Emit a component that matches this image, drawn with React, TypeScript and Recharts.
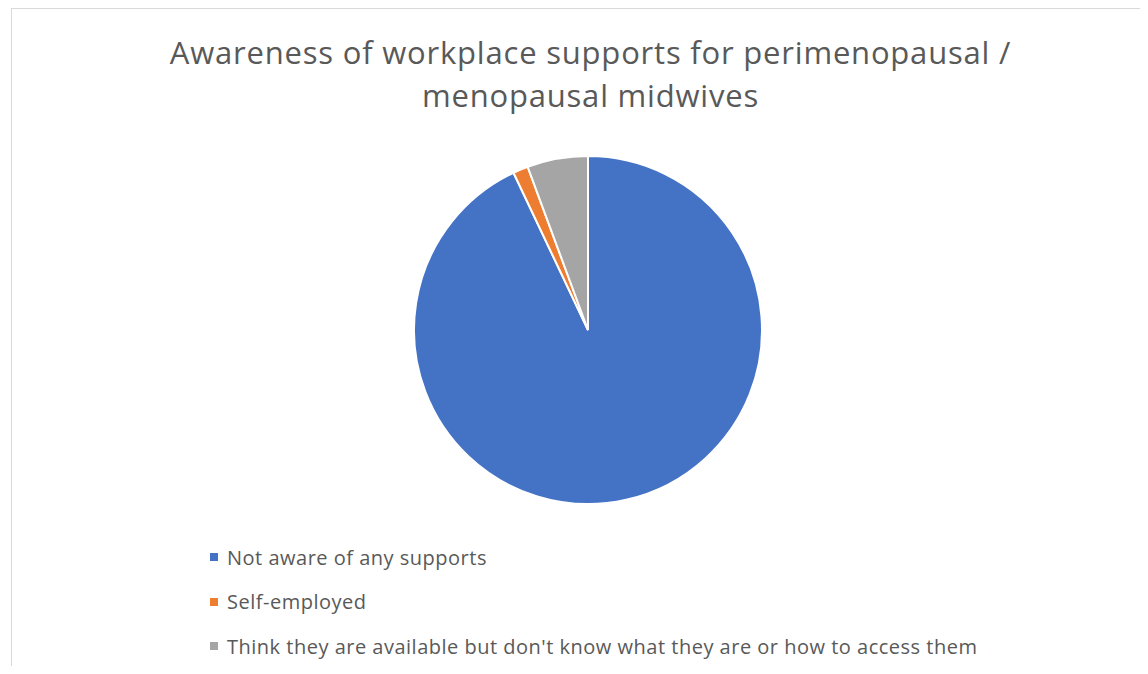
import React from 'react';
import { PieChart, Pie, Cell } from 'recharts';

const categories = [
  'Not aware of any supports',
  'Self-employed',
  "Think they are available but don't know what they are or how to access them",
];
const values = [66, 1, 4];
const colors = ['#4472C4', '#ED7D31', '#A5A5A5'];
const titleLines = ['Awareness of workplace supports for perimenopausal /', 'menopausal midwives'];

const data = categories.map((name, i) => ({ name, value: values[i] }));

const FONT = '"Open Sans", Lato, sans-serif';

export default function App() {
  return (
    <div
      style={{
        marginLeft: 3,
        width: 1130,
        height: 657,
        borderLeft: '1px solid #d9d9d9',
        borderTop: '1px solid #d9d9d9',
        position: 'relative',
        background: '#fff',
        fontFamily: FONT,
      }}
    >
      <div style={{ position: 'absolute', left: 0, top: 0 }}>
        <PieChart width={1129} height={656} margin={{ top: 0, right: 0, bottom: 0, left: 0 }}>
          <Pie
            data={data}
            dataKey="value"
            nameKey="name"
            cx={576}
            cy={321}
            outerRadius={174}
            startAngle={90}
            endAngle={-270}
            stroke="#ffffff"
            strokeWidth={2}
            isAnimationActive={false}
          >
            {data.map((_, i) => (
              <Cell key={i} fill={colors[i]} />
            ))}
          </Pie>
        </PieChart>
      </div>
      <div
        style={{
          position: 'absolute',
          left: 0,
          width: 1157,
          top: 22,
          textAlign: 'center',
          fontSize: 31,
          letterSpacing: 0.8,
          lineHeight: '43px',
          color: '#595959',
          fontFamily: FONT,
        }}
      >
        {titleLines.map((t, i) => (
          <div key={i}>{t}</div>
        ))}
      </div>
      <div style={{ position: 'absolute', left: 198, top: 526, fontFamily: FONT }}>
        {data.map((d, i) => (
          <div
            key={i}
            style={{
              display: 'flex',
              alignItems: 'center',
              height: 44.5,
              color: '#595959',
              fontSize: 20,
              letterSpacing: 0.5,
            }}
          >
            <span style={{ display: 'inline-block', width: 8, height: 8, background: colors[i], marginRight: 9 }} />
            <span style={{ whiteSpace: 'nowrap' }}>{d.name}</span>
          </div>
        ))}
      </div>
    </div>
  );
}
